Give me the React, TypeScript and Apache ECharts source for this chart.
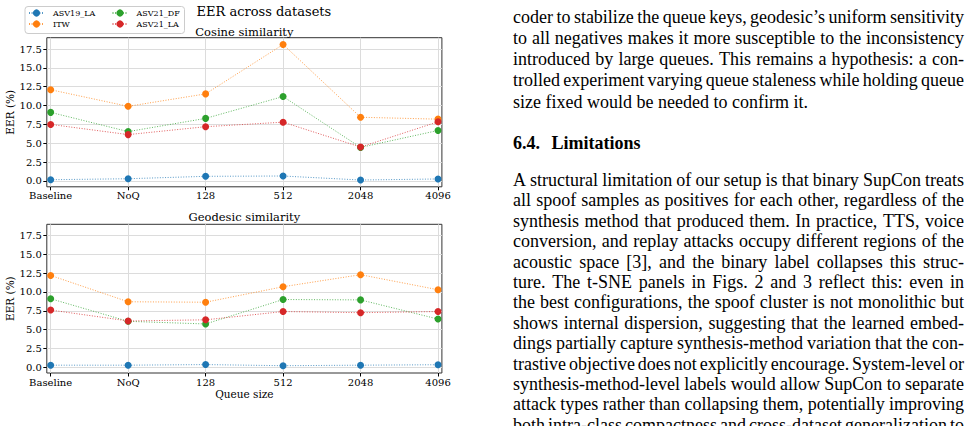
import React, { useEffect, useRef } from "react";
import * as echarts from "echarts";

const categories = ["Baseline", "NoQ", "128", "512", "2048", "4096"];
const seriesNames = ["ASV19_LA", "ITW", "ASV21_DF", "ASV21_LA"];
const colors = ["#1f77b4", "#ff7f0e", "#2ca02c", "#d62728"];

const cosineASV19LA = [0.17, 0.3, 0.62, 0.66, 0.13, 0.27];
const cosineITW = [12.1, 9.9, 11.55, 18.1, 8.45, 8.2];
const cosineASV21DF = [9.1, 6.55, 8.3, 11.2, 4.45, 6.7];
const cosineASV21LA = [7.5, 6.15, 7.2, 7.8, 4.5, 7.85];

const geodesicASV19LA = [0.27, 0.27, 0.35, 0.2, 0.27, 0.33];
const geodesicITW = [12.2, 8.7, 8.64, 10.7, 12.3, 10.3];
const geodesicASV21DF = [9.1, 6.1, 5.75, 9.0, 8.95, 6.4];
const geodesicASV21LA = [7.6, 6.15, 6.3, 7.4, 7.25, 7.4];

const yTicks = [0, 2.5, 5, 7.5, 10, 12.5, 15, 17.5];

const panelTitles = ["Cosine similarity", "Geodesic similarity"];
const figureTitle = "EER across datasets";

const para1 = [
  "coder to stabilize the queue keys, geodesic\u2019s uniform sensitivity",
  "to all negatives makes it more susceptible to the inconsistency",
  "introduced by large queues. This remains a hypothesis: a con-",
  "trolled experiment varying queue staleness while holding queue",
  "size fixed would be needed to confirm it.",
];
const para2 = [
  "A structural limitation of our setup is that binary SupCon treats",
  "all spoof samples as positives for each other, regardless of the",
  "synthesis method that produced them. In practice, TTS, voice",
  "conversion, and replay attacks occupy different regions of the",
  "acoustic space [3], and the binary label collapses this struc-",
  "ture. The t-SNE panels in Figs. 2 and 3 reflect this: even in",
  "the best configurations, the spoof cluster is not monolithic but",
  "shows internal dispersion, suggesting that the learned embed-",
  "dings partially capture synthesis-method variation that the con-",
  "trastive objective does not explicitly encourage. System-level or",
  "synthesis-method-level labels would allow SupCon to separate",
  "attack types rather than collapsing them, potentially improving",
  "both intra-class compactness and cross-dataset generalization to",
];

const CHART_FONT = "DejaVu Serif";
const PAGE_FONT = "Liberation Serif";

export default function App() {
  const ref = useRef<HTMLDivElement>(null);

  useEffect(() => {
    if (!ref.current) return;
    const chart = echarts.init(ref.current, undefined, { renderer: "svg" });

    const positions = categories.map((_, i) => i);
    const panels = [
      [cosineASV19LA, cosineITW, cosineASV21DF, cosineASV21LA],
      [geodesicASV19LA, geodesicITW, geodesicASV21DF, geodesicASV21LA],
    ];

    const grids = [
      { left: 46.8, top: 37.7, width: 395.1, height: 149.1 },
      { left: 46.8, top: 224.3, width: 395.1, height: 148.7 },
    ];

    const series: any[] = [];
    panels.forEach((panel, p) => {
      panel.forEach((vals, k) => {
        series.push({
          type: "line",
          name: seriesNames[k],
          xAxisIndex: p,
          yAxisIndex: p,
          data: vals.map((v, i) => [positions[i], v]),
          symbol: "circle",
          symbolSize: 7,
          clip: false,
          itemStyle: { color: colors[k] },
          lineStyle: { color: colors[k], width: 1, type: [1, 1.6], opacity: 0.75 },
          emphasis: { disabled: true },
          z: 2 + k,
        });
      });
    });

    // page text
    const canvas = document.createElement("canvas");
    const ctx = canvas.getContext("2d")!;
    const textEls: any[] = [];
    const X0 = 513;
    const W = 451;
    const addLine = (text: string, y: number, justify: boolean, bold = false) => {
      const font = `${bold ? "bold " : ""}18px "${PAGE_FONT}"`;
      ctx.font = font;
      const words = text.split(" ");
      const base = {
        fontFamily: PAGE_FONT,
        fontSize: 18,
        fontWeight: bold ? "bold" : "normal",
        fill: "#000",
        textAlign: "left",
        textVerticalAlign: "middle",
      };
      if (!justify || words.length < 2) {
        textEls.push({ type: "text", x: X0, y, silent: true, style: { ...base, text } });
        return;
      }
      const widths = words.map((w) => ctx.measureText(w).width);
      const total = widths.reduce((a, b) => a + b, 0);
      const gap = (W - total) / (words.length - 1);
      let x = X0;
      words.forEach((w, i) => {
        textEls.push({ type: "text", x, y, silent: true, style: { ...base, text: w } });
        x += widths[i] + gap;
      });
    };
    const p1Start = 16.5;
    const lh1 = 21.3;
    para1.forEach((t, i) => addLine(t, p1Start + i * lh1, i < para1.length - 1));
    textEls.push({
      type: "text", x: X0, y: 143.3, silent: true,
      style: { text: "6.4.", fontFamily: PAGE_FONT, fontSize: 18, fontWeight: "bold", fill: "#000", textAlign: "left", textVerticalAlign: "middle" },
    });
    textEls.push({
      type: "text", x: 551.5, y: 143.3, silent: true,
      style: { text: "Limitations", fontFamily: PAGE_FONT, fontSize: 18, fontWeight: "bold", fill: "#000", textAlign: "left", textVerticalAlign: "middle" },
    });
    const p2Start = 180;
    const lh2 = 20.4;
    para2.forEach((t, i) => addLine(t, p2Start + i * lh2, true));

    const axisTextStyle = { fontFamily: CHART_FONT, fontSize: 10, color: "#000" };

    const legendCommon = {
      orient: "vertical",
      top: 9,
      padding: 0,
      itemWidth: 15,
      itemHeight: 9,
      itemGap: 3,
      selectedMode: false,
      textStyle: { fontFamily: CHART_FONT, fontSize: 8, color: "#000", padding: [0, 0, 0, 4] },
    };

    const option: any = {
      animation: false,
      backgroundColor: "#fff",
      textStyle: { fontFamily: CHART_FONT },
      title: {
        text: figureTitle,
        left: 196.5,
        top: 4.5,
        padding: 0,
        textStyle: { fontFamily: CHART_FONT, fontSize: 13, fontWeight: "normal", color: "#000" },
      },
      legend: [
        { ...legendCommon, data: [seriesNames[0], seriesNames[1]], left: 28 },
        { ...legendCommon, data: [seriesNames[2], seriesNames[3]], left: 111.5 },
      ],
      grid: grids.map((g) => ({
        ...g,
        show: true,
        borderColor: "#333",
        borderWidth: 1,
        backgroundColor: "transparent",
        containLabel: false,
      })),
      xAxis: grids.map((_, p) => ({
        type: "value",
        gridIndex: p,
        min: -0.05,
        max: 5.05,
        axisLine: { show: false, onZero: false },
        axisTick: { show: true, length: 3.5, lineStyle: { color: "#000" }, customValues: positions },
        axisLabel: {
          customValues: positions,
          formatter: (v: number) => categories[Math.round(v)] ?? "",
          ...axisTextStyle,
          margin: 4,
        },
        splitLine: { show: true, lineStyle: { color: "#dcdcdc", width: 1 } },
        name: p === 1 ? "Queue size" : "",
        nameLocation: "middle",
        nameGap: 15,
        nameTextStyle: { ...axisTextStyle, fontSize: 10.5 },
      })),
      yAxis: grids.map((_, p) => ({
        type: "value",
        gridIndex: p,
        min: -0.77,
        max: 19.0,
        axisLine: { show: false, onZero: false },
        axisTick: { show: true, length: 3.5, lineStyle: { color: "#000" }, customValues: yTicks },
        axisLabel: {
          customValues: yTicks,
          formatter: (v: number) => v.toFixed(1),
          ...axisTextStyle,
          margin: 5,
        },
        splitLine: { show: true, lineStyle: { color: "#dcdcdc", width: 1 } },
        name: "EER (%)",
        nameLocation: "middle",
        nameRotate: 90,
        nameGap: 30,
        nameTextStyle: { ...axisTextStyle, fontSize: 10.5 },
      })),
      graphic: [
        {
          type: "rect",
          z: 0,
          silent: true,
          shape: { x: 25, y: 6.5, width: 159.5, height: 27, r: 3 },
          style: { fill: "#fff", stroke: "#cccccc", lineWidth: 1 },
        },
        ...panelTitles.map((t, p) => ({
          type: "text",
          silent: true,
          x: grids[p].left + grids[p].width / 2,
          y: p === 0 ? 32 : 217.3,
          style: {
            text: t,
            fontFamily: CHART_FONT,
            fontSize: 11.5,
            fill: "#000",
            textAlign: "center",
            textVerticalAlign: "middle",
          },
        })),
        ...textEls,
      ],
      series,
    };

    chart.setOption(option);
    return () => chart.dispose();
  }, []);

  return (
    <div
      ref={ref}
      style={{ position: "absolute", left: 0, top: 0, width: 973, height: 426, background: "#fff" }}
    />
  );
}
